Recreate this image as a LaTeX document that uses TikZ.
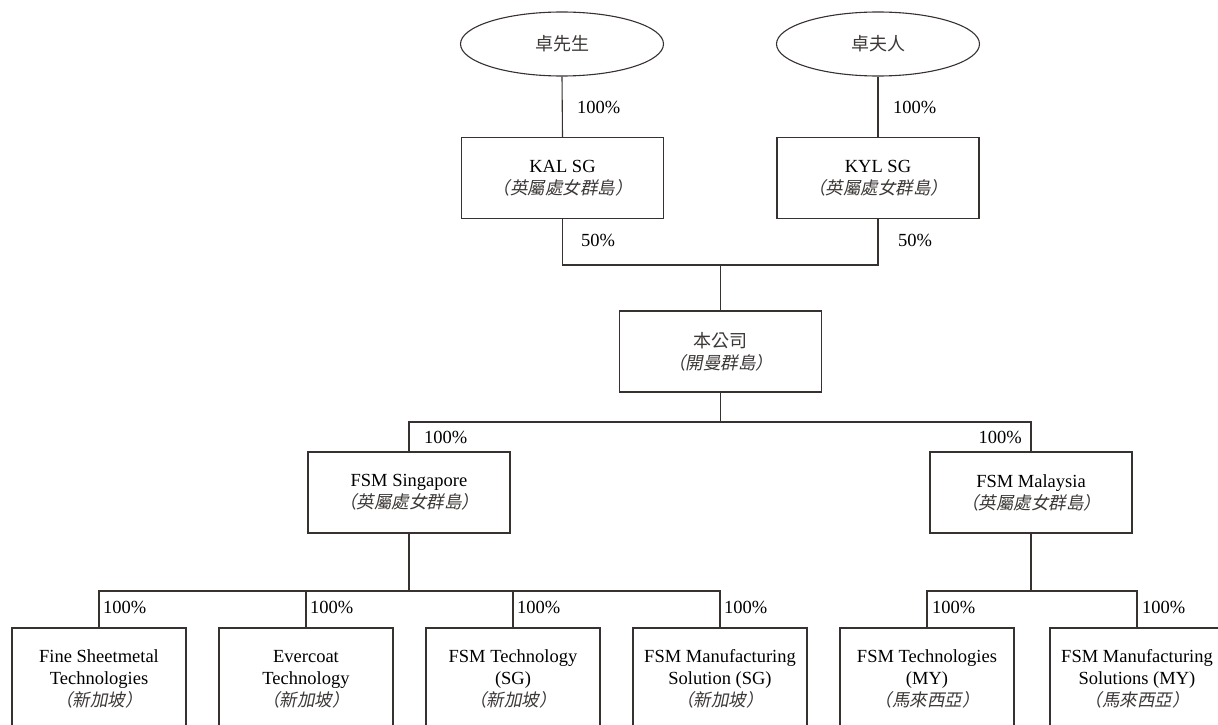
\documentclass[tikz,border=0pt]{standalone}
\usepackage{fontspec}
\setmainfont{Liberation Serif}
\newfontfamily\cjk{Noto Sans CJK TC}
\newfontfamily\cjkit[FakeSlant=0.2]{Noto Sans CJK TC}
\usetikzlibrary{shapes.geometric}
\definecolor{ln}{RGB}{55,50,48}
\definecolor{cj}{RGB}{60,56,54}
\newcommand\itl[1]{{\color{cj}\cjkit\fontsize{17.5}{21}\selectfont #1}}
\newcommand\cjn[1]{{\color{cj}\cjk\fontsize{18}{21}\selectfont #1}}
\tikzset{
  box/.style={draw=ln, line width=1.1pt, minimum width=202pt, minimum height=81pt, align=center, inner sep=0pt, font=\fontsize{18.5}{22}\selectfont},
  sbox/.style={draw=ln, line width=1.1pt, minimum width=174pt, minimum height=102pt, align=center, inner sep=0pt, font=\fontsize{18.5}{22}\selectfont},
  oval/.style={ellipse, draw=ln, line width=1.1pt, minimum width=203pt, minimum height=64pt, inner sep=0pt, font=\cjk\fontsize{18}{20}\selectfont, text=cj},
  pct/.style={inner sep=0pt, anchor=west, font=\fontsize{18.5}{20}\selectfont},
  pctl/.style={pct, anchor=east},
  conn/.style={draw=ln, line width=1.1pt}
}
\begin{document}
\begin{tikzpicture}[x=1pt,y=-1pt]
\useasboundingbox (0,0) rectangle (1218,725);
\fill[white] (0,0) rectangle (1218,725);
\clip (0,0) rectangle (1218,725);
% top owners
\node[oval] (e1) at (562,44) {卓先生};
\node[oval] (e2) at (878,44) {卓夫人};
\node[box] (kal) at (562.5,178) {KAL SG\\\itl{（英屬處女群島）}};
\node[box] (kyl) at (878,178) {KYL SG\\\itl{（英屬處女群島）}};
\node[box] (co) at (720.5,351.5) {\cjn{本公司}\\\itl{（開曼群島）}};
\node[box] (sg) at (409,492.5) {FSM Singapore\\\itl{（英屬處女群島）}};
\node[box] (my) at (1031,492.5) {FSM Malaysia\\\itl{（英屬處女群島）}};
\node[sbox] (b1) at (99,679) {Fine Sheetmetal\\Technologies\\\itl{（新加坡）}};
\node[sbox] (b2) at (306,679) {Evercoat\\Technology\\\itl{（新加坡）}};
\node[sbox] (b3) at (513,679) {FSM Technology\\(SG)\\\itl{（新加坡）}};
\node[sbox] (b4) at (720,679) {FSM Manufacturing\\Solution (SG)\\\itl{（新加坡）}};
\node[sbox] (b5) at (927,679) {FSM Technologies\\(MY)\\\itl{（馬來西亞）}};
\node[sbox] (b6) at (1137,679) {FSM Manufacturing\\Solutions (MY)\\\itl{（馬來西亞）}};
\coordinate (j1) at (720.5,265);
\coordinate (j2) at (720.5,422);
\coordinate (j3) at (409,591);
\coordinate (j4) at (1031,591);
% connectors
\draw[conn] (e1.south) -- (kal.north);
\draw[conn] (e2.south) -- (kyl.north);
\draw[conn] (kal.south) |- (j1);
\draw[conn] (kyl.south) |- (j1);
\draw[conn] (j1) -- (co.north);
\draw[conn] (co.south) -- (j2);
\draw[conn] (j2) -| (sg.north);
\draw[conn] (j2) -| (my.north);
\draw[conn] (sg.south) -- (j3);
\draw[conn] (j3) -| (b1.north);
\draw[conn] (j3) -| (b4.north);
\draw[conn] (b2.north) -- (b2.north |- j3);
\draw[conn] (b3.north) -- (b3.north |- j3);
\draw[conn] (my.south) -- (j4);
\draw[conn] (j4) -| (b5.north);
\draw[conn] (j4) -| (b6.north);
% labels
\node[pct] (p1) at (577,107) {100\%};
\node[pct] (p2) at (893,107) {100\%};
\node[pct] (p3) at (581,240) {50\%};
\node[pct] (p4) at (898,240) {50\%};
\node[pct] (p5) at (424,437) {100\%};
\node[pctl] (p6) at (1022,437) {100\%};
\node[pct] (p7) at (103,607) {100\%};
\node[pct] (p8) at (310,607) {100\%};
\node[pct] (p9) at (517,607) {100\%};
\node[pct] (p10) at (724,607) {100\%};
\node[pct] (p11) at (932,607) {100\%};
\node[pct] (p12) at (1142,607) {100\%};
\end{tikzpicture}
\end{document}
